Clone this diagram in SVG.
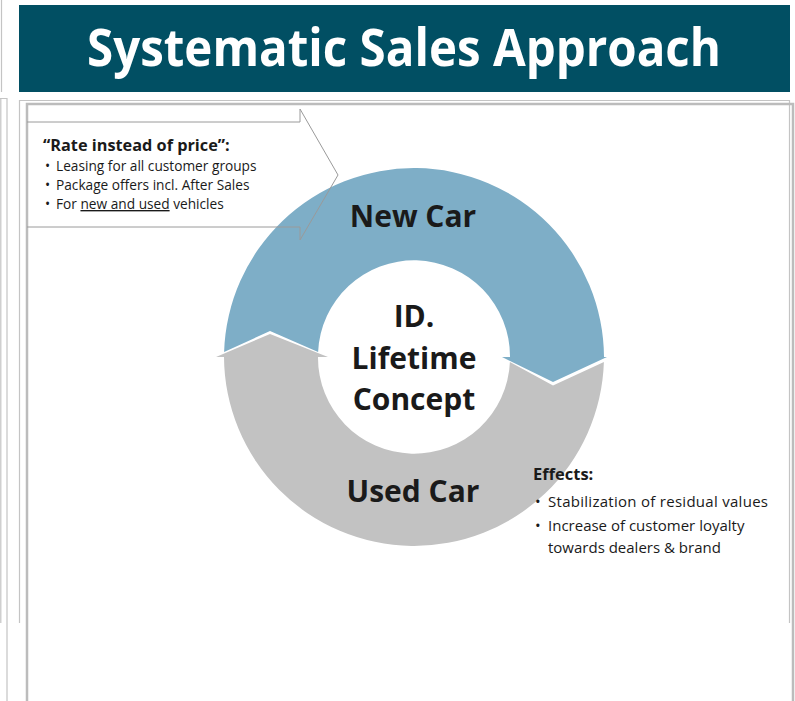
<svg xmlns="http://www.w3.org/2000/svg" width="795" height="701" viewBox="0 0 795 701">
<style>
.frame{fill:none;stroke:#c4c4c4;stroke-width:1.2}
.frame2{fill:none;stroke:#bcbcbc;stroke-width:2.5}
.t{font-family:"Open Sans","Liberation Sans",sans-serif;fill:#1a1a1a}
.b{font-weight:bold}
.big{font-size:30px;font-weight:bold;text-anchor:middle}
.sm{font-size:13.7px}
</style>
<rect width="795" height="701" fill="#ffffff"/>
<g id="frames">
  <path class="frame" d="M1.5,0 V92"/>
  <path class="frame" d="M0,98.5 H7 V701"/>
  <path class="frame" d="M0.8,98.5 V623"/>
  <path class="frame" d="M19.5,623 V100.5 H789.5 V623"/>
  <path class="frame2" d="M27,701 V104 H793 V701"/>
</g>
<g id="title">
  <rect x="19" y="5" width="771" height="87" fill="#014f63"/>
  <text x="404" y="66" font-family="'Open Sans','Liberation Sans',sans-serif" font-weight="bold" font-size="52" fill="#ffffff" text-anchor="middle" textLength="634" lengthAdjust="spacingAndGlyphs">Systematic Sales Approach</text>
</g>
<g id="new-car">
  <path d="M224.1,352 A190,190 0 0 1 604,357 L607,357 L553,382 L502,357 L510,357 A96,96 0 0 0 318.1,352 L270,331 Z" fill="#7eaec7"/>
  <text class="t big" x="413" y="227">New Car</text>
</g>
<g id="used-car">
  <path d="M603.9,362 A190,190 0 0 1 224,357 L216,357 L270,334 L328,357 L318,357 A96,96 0 0 0 509.9,362 L553,385.5 Z" fill="#c2c2c2"/>
  <text class="t big" x="413" y="502">Used Car</text>
</g>
<g id="lifetime-concept">
  <text class="t big" font-size="31" x="414" y="327">ID.</text>
  <text class="t big" x="414" y="369">Lifetime</text>
  <text class="t big" x="414" y="410">Concept</text>
</g>
<g id="rate-callout">
  <path d="M27,122 H300 V109 L338,175 L300,240 V227 H27" fill="none" stroke="#9a9a9a" stroke-width="1"/>
  <text class="t b" x="43" y="151" font-size="16.3">“Rate instead of price”:</text>
  <g class="t sm">
    <text x="45" y="171">•</text><text x="56" y="171">Leasing for all customer groups</text>
    <text x="45" y="190">•</text><text x="56" y="190">Package offers incl. After Sales</text>
    <text x="45" y="209">•</text><text x="56" y="209">For <tspan text-decoration="underline">new and used</tspan> vehicles</text>
  </g>
</g>
<g id="effects">
  <text class="t b" x="533" y="480" font-size="16.5">Effects:</text>
  <g class="t" font-size="15">
    <text x="535" y="507">•</text><text x="548" y="507" textLength="220" lengthAdjust="spacing">Stabilization of residual values</text>
    <text x="535" y="531">•</text><text x="548" y="531">Increase of customer loyalty</text>
    <text x="548" y="553">towards dealers &amp; brand</text>
  </g>
</g>
</svg>
